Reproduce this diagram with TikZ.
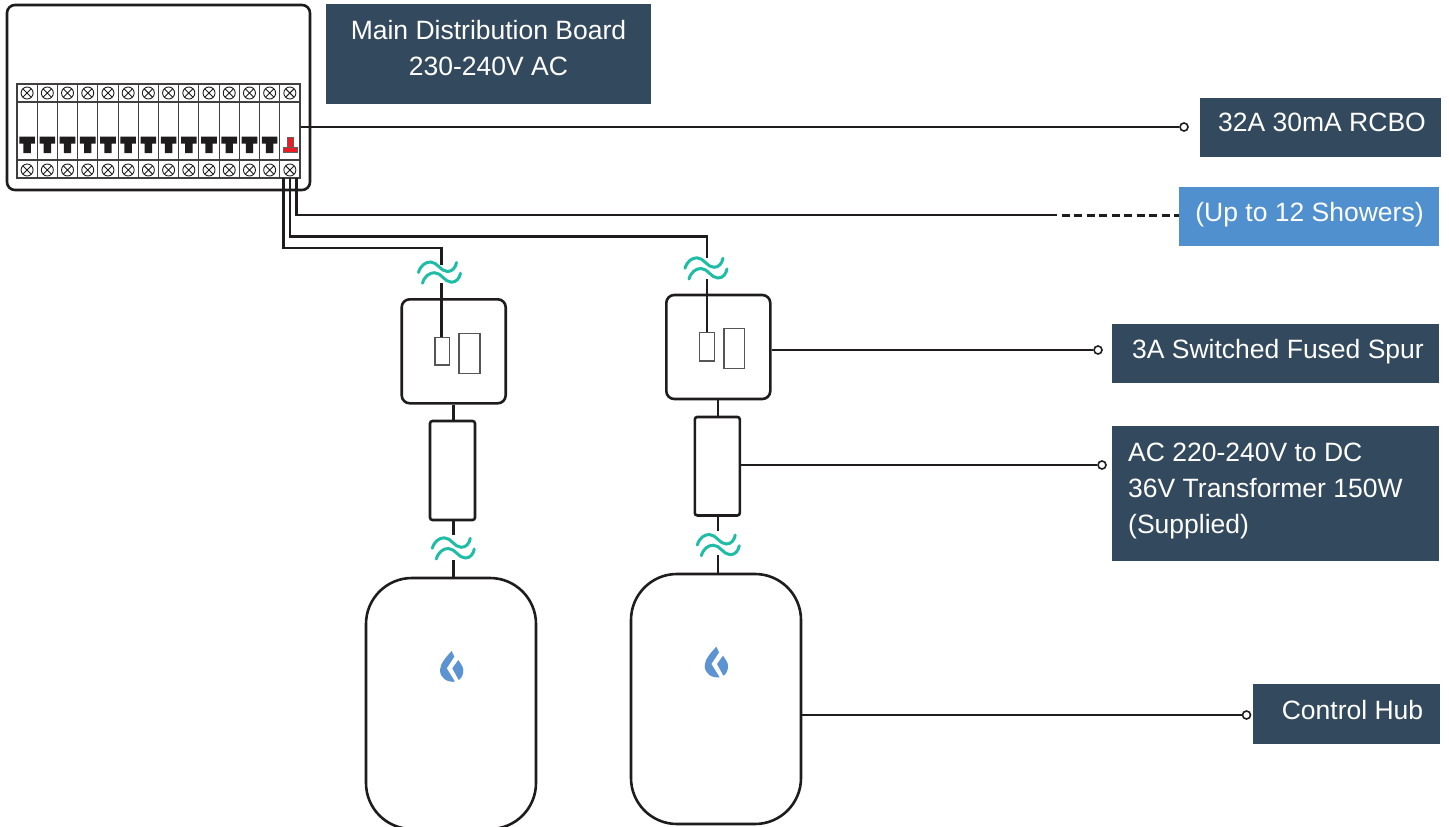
\documentclass[tikz,border=0pt]{standalone}
\usepackage{fontspec}
\setmainfont{Liberation Sans}
\definecolor{navy}{HTML}{33495D}
\definecolor{sky}{HTML}{5090CF}
\definecolor{teal2}{HTML}{1FBDA5}
\definecolor{ink}{HTML}{1F1C1D}
\definecolor{logoblue}{HTML}{5B93D3}
\definecolor{breaker}{HTML}{ED1C24}
\tikzset{
  x=1pt,y=-1pt,
  shell/.style={draw=ink,line width=2.6pt,rounded corners=#1,inner sep=0pt,fill=white},
  shell/.default=8pt,
  slot/.style={draw=ink!75,line width=1.2pt,inner sep=0pt},
  tag/.style={fill=#1,inner sep=0pt},
  words/.style={text=white,font=\fontsize{26.5}{36}\selectfont,inner sep=0pt},
  cable/.style={draw=ink,line width=2.6pt,line join=miter},
  lead/.style={draw=ink,line width=2.2pt},
  dot/.style={circle,draw=ink,line width=1.6pt,fill=white,minimum size=8pt,inner sep=0pt},
  thin grid/.style={draw=ink!85,line width=1.1pt},
  waves/.pic={
    \foreach \o/\p in {0/0,4/10.7}{
      \draw[teal2,line width=3pt,line cap=round,xshift=\o pt,yshift=-\p pt]
        (0,0) .. controls (2,-7) and (7,-10.5) .. (12,-10.5)
        .. controls (19,-10.5) and (22,-1) .. (29,-1)
        .. controls (34,-1) and (37,-5) .. (38,-10);
    }
  },
  logo/.pic={
    \fill[logoblue] (11.7,0) -- (14.3,5.7) -- (6.7,17.3) -- (15,30.7)
      .. controls (7,31.5) and (0,27) .. (0,19) .. controls (0,13) and (6,6) .. (11.7,0) -- cycle;
    \fill[logoblue] (18.3,9) .. controls (20.5,12.5) and (23.3,15.5) .. (23.3,19)
      .. controls (23.3,23.5) and (22,27) .. (18.7,29) -- (12.3,17.3) -- cycle;
  },
  screw/.pic={
    \draw[ink,line width=.9pt] (0,0) circle[radius=6pt];
    \draw[ink,line width=.9pt] (-4.2,-4.2) -- (4.2,4.2) (-4.2,4.2) -- (4.2,-4.2);
  }
}
\begin{document}
\begin{tikzpicture}
\useasboundingbox (0,0) rectangle (1449,827);
\clip (0,0) rectangle (1449,827);

% distribution board
\node[shell,minimum width=303pt,minimum height=185pt] (board) at (158.5,97.5) {};
\node[thin grid,inner sep=0pt,minimum width=283pt,minimum height=94pt] (strip) at (158.5,131) {};
\draw[thin grid] (17,102) -- (300,102) (17,160) -- (300,160);
\foreach \i in {1,...,13}{
  \draw[thin grid] ({17+\i*20.214},84) -- ({17+\i*20.214},178);
}
\foreach \i in {0,...,13}{
  \pic at ({27.1+\i*20.214},93) {screw};
  \pic at ({27.1+\i*20.214},170) {screw};
}
\foreach \i in {0,...,12}{
  \fill[ink] ({27.1+\i*20.214-7.8},136.5) rectangle ({27.1+\i*20.214+7.8},143.5)
    ({27.1+\i*20.214-3.7},143) rectangle ({27.1+\i*20.214+3.7},153);
}
\fill[breaker] (287.2,137.5) rectangle (293,147) (283,147) rectangle (297.3,152);
\draw[ink!70,line width=.5pt] (287.2,137.5) rectangle (293,147) (283,147) rectangle (297.3,152);

% labels
\node[tag=navy,minimum width=325pt,minimum height=100pt] (main) at (488.5,54) {};
\node[words,align=center] at (488.5,48) {Main Distribution Board\\230-240V AC};
\node[tag=navy,minimum width=241pt,minimum height=59pt] (rcbo) at (1320.5,127.5) {};
\node[words] at (1322,122.5) {32A 30mA RCBO};
\node[tag=sky,minimum width=260pt,minimum height=59pt] (showers) at (1309,216.5) {};
\node[words] at (1309.5,214.5) {(Up to 12 Showers)};
\node[tag=navy,minimum width=327pt,minimum height=59pt] (fused) at (1275.5,353.5) {};
\node[words] at (1278,351.5) {3A Switched Fused Spur};
\node[tag=navy,minimum width=327pt,minimum height=135pt] (transformer) at (1275.5,493.5) {};
\node[words,align=left,anchor=west] at (1128,490.5) {AC 220-240V to DC\\36V Transformer 150W\\(Supplied)};
\node[tag=navy,minimum width=187pt,minimum height=60pt] (hublabel) at (1346.5,714) {};
\node[words] at (1352.5,710) {Control Hub};

% spurs, transformers, hubs
\node[shell,minimum width=104pt,minimum height=104pt] (spurA) at (453.7,351.3) {};
\node[shell,minimum width=104pt,minimum height=104pt] (spurB) at (718.3,347) {};
\node[shell=2.5pt,minimum width=45pt,minimum height=99pt] (trafoA) at (452.5,470.5) {};
\node[shell=2.5pt,minimum width=45pt,minimum height=98.5pt] (trafoB) at (717.3,466.2) {};
\node[shell=46pt,minimum width=170pt,minimum height=251pt] (hubA) at (451,703.5) {};
\node[shell=46pt,minimum width=170pt,minimum height=250pt] (hubB) at (716,699) {};

\node[slot,minimum width=14.5pt,minimum height=27.7pt] (fuseA) at (442.2,351.2) {};
\node[slot,minimum width=21pt,minimum height=40pt] (rockerA) at (469.5,353.3) {};
\node[slot,minimum width=14.8pt,minimum height=28.3pt] (fuseB) at (707,346.8) {};
\node[slot,minimum width=20.7pt,minimum height=40pt] (rockerB) at (734.3,348.7) {};

% wires from the breaker
\coordinate (wA) at (283.5,178);
\coordinate (wB) at (290,178);
\coordinate (wC) at (296.5,178);
\coordinate (upA) at (441.7,265);
\coordinate (loA) at (441.7,283);
\coordinate (upB) at (707,258);
\coordinate (loB) at (707,279);
\coordinate (dash) at (1057,215);
\draw[cable] (wA) |- (441.7,248) -- (upA);
\draw[cable] (loA) -- (fuseA.north -| loA);
\draw[cable] (wB) |- (707,236.5) -- (upB);
\draw[cable] (loB) -- (fuseB.north);
\draw[cable] (wC) |- (dash);
\draw[cable,line width=3pt,dash pattern=on 8pt off 4.5pt,dash phase=8pt] (dash) -- (showers.west |- dash);

% links between the units
\coordinate (tA1) at (453.5,535);
\coordinate (tA2) at (453.5,560);
\coordinate (tB1) at (718,531);
\coordinate (tB2) at (718,555);
\draw[lead] (spurA.south -| tA1) -- (trafoA.north -| tA1);
\draw[lead] (spurB.south -| tB1) -- (trafoB.north -| tB1);
\draw[lead] (trafoA.south -| tA1) -- (tA1);
\draw[lead] (tA2) -- (hubA.north -| tA2);
\draw[lead] (trafoB.south -| tB1) -- (tB1);
\draw[lead] (tB2) -- (hubB.north -| tB2);

% callouts
\node[dot] (dotR) at (1184,127) {};
\node[dot] (dotF) at (1098,350) {};
\node[dot] (dotT) at (1102,465) {};
\node[dot] (dotH) at (1246.5,715) {};
\draw[lead] (strip.east |- dotR) -- (dotR);
\draw[lead] (spurB.east |- dotF) -- (dotF);
\draw[lead] (trafoB.east |- dotT) -- (dotT);
\draw[lead] (hubB.east |- dotH) -- (dotH);

% wave marks and logos
\pic at (418.5,272.5) {waves};
\pic at (685,268.3) {waves};
\pic at (432.3,548.3) {waves};
\pic at (697.3,545) {waves};
\pic at (440,651) {logo};
\pic at (704.7,646.7) {logo};
\end{tikzpicture}
\end{document}
